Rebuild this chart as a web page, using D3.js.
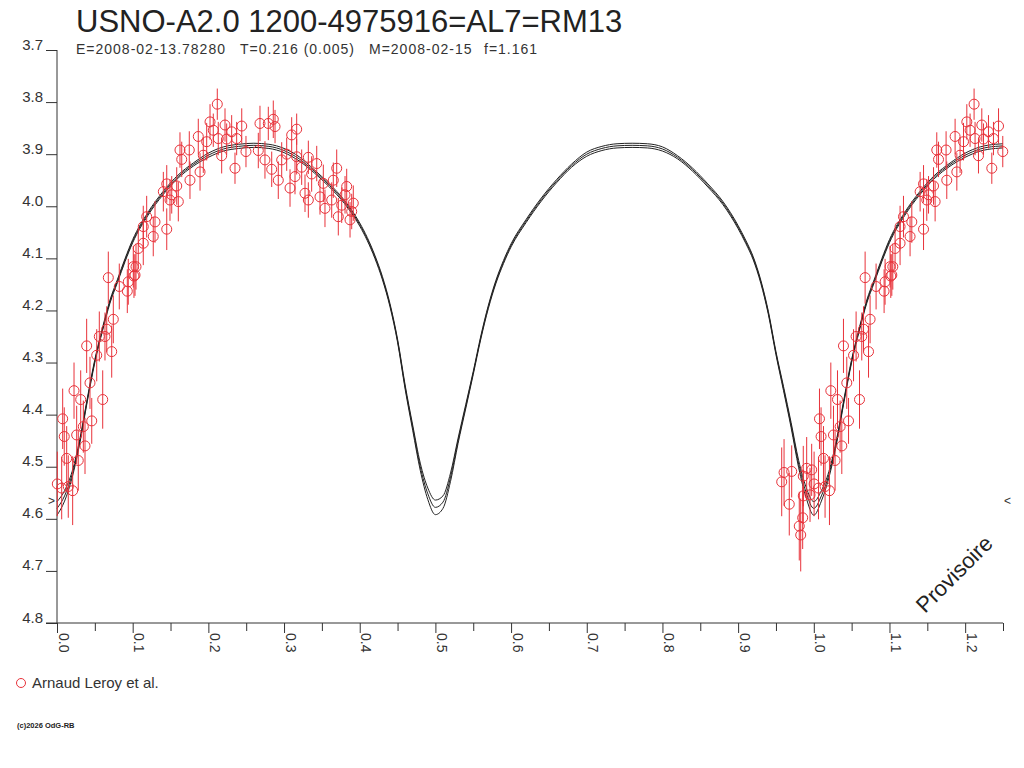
<!DOCTYPE html>
<html>
<head>
<meta charset="utf-8">
<script src="https://cdn.jsdelivr.net/npm/d3@7"></script>
<style>
body { margin: 0; background: #fff; }
svg { display: block; font-family: "Liberation Sans", Arial, sans-serif; }
</style>
</head>
<body>
<svg id="chart"></svg>
<script>
const obsPhase = [-0.0424, -0.0393, -0.0324, -0.0292, -0.0192, -0.0173, -0.0147, -0.0139, -0.0139, -0.0094, -0.0050, -0.0028,
    0.0004, 0.0062, 0.0075, 0.0096, 0.0128, 0.0149, 0.0207, 0.0225, 0.0260, 0.0281, 0.0313, 0.0348, 0.0370, 0.0392,
    0.0436, 0.0459, 0.0525, 0.0559, 0.0604, 0.0634, 0.0657, 0.0678, 0.0723, 0.0744, 0.0823, 0.0929, 0.0942, 0.1008,
    0.1017, 0.1031, 0.1044, 0.1074, 0.1140, 0.1140, 0.1185, 0.1272, 0.1295, 0.1405, 0.1450, 0.1450, 0.1493, 0.1516,
    0.1582, 0.1603, 0.1625, 0.1648, 0.1748, 0.1757, 0.1867, 0.1890, 0.1933, 0.1978, 0.2022, 0.2065, 0.2118, 0.2131,
    0.2176, 0.2220, 0.2242, 0.2308, 0.2352, 0.2374, 0.2441, 0.2497, 0.2660, 0.2682, 0.2748, 0.2792, 0.2837, 0.2858,
    0.2881, 0.2924, 0.2969, 0.3035, 0.3079, 0.3101, 0.3145, 0.3167, 0.3167, 0.3233, 0.3277, 0.3321, 0.3321, 0.3365,
    0.3432, 0.3475, 0.3519, 0.3541, 0.3630, 0.3651, 0.3696, 0.3717, 0.3762, 0.3806, 0.3828, 0.3872, 0.3894, 0.3915];
const obsMag = [4.529, 4.511, 4.572, 4.509, 4.614, 4.631, 4.598, 4.518, 4.556, 4.503, 4.554, 4.506,
    4.533, 4.541, 4.408, 4.442, 4.484, 4.538, 4.546, 4.354, 4.439, 4.488, 4.371, 4.423, 4.460, 4.268,
    4.339, 4.412, 4.286, 4.250, 4.371, 4.250, 4.236, 4.137, 4.279, 4.217, 4.154, 4.163, 4.145, 4.116,
    4.134, 4.132, 4.116, 4.081, 4.071, 4.039, 4.020, 4.058, 4.030, 3.972, 4.044, 3.957, 3.988, 3.978,
    3.961, 3.991, 3.892, 3.910, 3.892, 3.950, 3.866, 3.934, 3.902, 3.876, 3.838, 3.854, 3.804, 3.870,
    3.903, 3.844, 3.871, 3.857, 3.927, 3.870, 3.846, 3.895, 3.893, 3.841, 3.911, 3.841, 3.929, 3.833,
    3.847, 3.950, 3.911, 3.900, 3.965, 3.863, 3.943, 3.852, 3.905, 3.925, 3.975, 3.988, 3.906, 3.938,
    3.918, 3.982, 3.956, 4.004, 3.988, 3.950, 3.927, 4.020, 3.998, 3.978, 3.962, 4.026, 4.010, 3.994];
const obsErr = [0.066, 0.064, 0.060, 0.050, 0.066, 0.070, 0.060, 0.058, 0.050, 0.060, 0.052, 0.050,
    0.062, 0.060, 0.058, 0.056, 0.062, 0.060, 0.066, 0.054, 0.056, 0.058, 0.056, 0.050, 0.054, 0.052,
    0.050, 0.044, 0.050, 0.048, 0.056, 0.046, 0.044, 0.050, 0.050, 0.046, 0.044, 0.042, 0.044, 0.040,
    0.042, 0.040, 0.044, 0.040, 0.042, 0.040, 0.040, 0.038, 0.040, 0.038, 0.040, 0.036, 0.040, 0.036,
    0.036, 0.038, 0.034, 0.034, 0.036, 0.036, 0.034, 0.036, 0.034, 0.036, 0.034, 0.032, 0.030, 0.032,
    0.034, 0.032, 0.030, 0.032, 0.030, 0.032, 0.034, 0.030, 0.034, 0.034, 0.036, 0.032, 0.034, 0.036,
    0.032, 0.036, 0.034, 0.032, 0.036, 0.034, 0.034, 0.030, 0.034, 0.034, 0.036, 0.034, 0.032, 0.034,
    0.034, 0.034, 0.036, 0.036, 0.034, 0.034, 0.036, 0.036, 0.034, 0.036, 0.034, 0.034, 0.034, 0.034];

// Model light curves (three solutions)
const modelPhase = [
    0.00, 0.01, 0.02, 0.03, 0.04, 0.05, 0.06, 0.07, 0.08, 0.09, 0.10,
    0.12, 0.14, 0.16, 0.18, 0.20, 0.22, 0.24, 0.26, 0.28, 0.30, 0.32, 0.34, 0.36, 0.38,
    0.40, 0.41, 0.42, 0.43, 0.44, 0.45, 0.46, 0.47, 0.48, 0.49, 0.50, 0.51, 0.52, 0.53, 0.54, 0.55, 0.56, 0.57, 0.58, 0.59, 0.60,
    0.62, 0.64, 0.66, 0.68, 0.70, 0.72, 0.74, 0.76, 0.78, 0.80, 0.82, 0.84, 0.86, 0.88, 0.90,
    0.91, 0.92, 0.93, 0.94, 0.95, 0.96, 0.97, 0.98, 0.99, 1.00, 1.01, 1.02, 1.03, 1.04, 1.05, 1.06, 1.07, 1.08, 1.09, 1.10,
    1.12, 1.14, 1.16, 1.18, 1.20, 1.22, 1.24, 1.25];
const modelBright = [
    4.567, 4.546, 4.509, 4.448, 4.369, 4.294, 4.234, 4.180, 4.140, 4.100, 4.064,
    4.012, 3.972, 3.940, 3.917, 3.898, 3.886, 3.881, 3.879, 3.881, 3.889, 3.905, 3.930, 3.957, 3.989,
    4.032, 4.060, 4.094, 4.135, 4.187, 4.255, 4.343, 4.420, 4.493, 4.541, 4.564, 4.556, 4.512, 4.445, 4.381, 4.317, 4.249, 4.190, 4.142, 4.104, 4.072,
    4.025, 3.984, 3.949, 3.919, 3.896, 3.885, 3.880, 3.879, 3.880, 3.886, 3.903, 3.927, 3.957, 3.991, 4.037,
    4.065, 4.097, 4.142, 4.202, 4.279, 4.346, 4.415, 4.488, 4.540, 4.567, 4.546, 4.509, 4.448, 4.369, 4.294, 4.234, 4.180, 4.140, 4.100, 4.064,
    4.012, 3.972, 3.940, 3.917, 3.898, 3.886, 3.881, 3.880];
const modelMid = [
    4.580, 4.556, 4.515, 4.452, 4.372, 4.297, 4.237, 4.183, 4.143, 4.103, 4.067,
    4.015, 3.975, 3.943, 3.920, 3.902, 3.890, 3.885, 3.883, 3.885, 3.893, 3.909, 3.933, 3.960, 3.992,
    4.035, 4.063, 4.097, 4.138, 4.190, 4.258, 4.347, 4.425, 4.500, 4.552, 4.578, 4.568, 4.520, 4.450, 4.385, 4.320, 4.252, 4.193, 4.145, 4.107, 4.075,
    4.028, 3.987, 3.952, 3.922, 3.900, 3.889, 3.884, 3.883, 3.884, 3.890, 3.906, 3.930, 3.960, 3.994, 4.040,
    4.068, 4.100, 4.145, 4.205, 4.282, 4.350, 4.420, 4.495, 4.550, 4.580, 4.556, 4.515, 4.452, 4.372, 4.297, 4.237, 4.183, 4.143, 4.103, 4.067,
    4.015, 3.975, 3.943, 3.920, 3.902, 3.890, 3.885, 3.884];
const modelFaint = [
    4.593, 4.566, 4.521, 4.456, 4.375, 4.300, 4.240, 4.186, 4.146, 4.106, 4.070,
    4.018, 3.978, 3.946, 3.923, 3.906, 3.894, 3.889, 3.887, 3.889, 3.897, 3.913, 3.936, 3.963, 3.995,
    4.038, 4.066, 4.100, 4.141, 4.193, 4.261, 4.351, 4.430, 4.507, 4.563, 4.592, 4.580, 4.528, 4.455, 4.389, 4.323, 4.255, 4.196, 4.148, 4.110, 4.078,
    4.031, 3.990, 3.955, 3.925, 3.904, 3.893, 3.888, 3.887, 3.888, 3.894, 3.909, 3.933, 3.963, 3.997, 4.043,
    4.071, 4.103, 4.148, 4.208, 4.285, 4.354, 4.425, 4.502, 4.560, 4.593, 4.566, 4.521, 4.456, 4.375, 4.300, 4.240, 4.186, 4.146, 4.106, 4.070,
    4.018, 3.978, 3.946, 3.923, 3.906, 3.894, 3.889, 3.888];

// Axis ticks
const xMajorTicks = [0.0, 0.1, 0.2, 0.3, 0.4, 0.5, 0.6, 0.7, 0.8, 0.9, 1.0, 1.1, 1.2];
const xMinorTicks = [0.05, 0.15, 0.25, 0.35, 0.45, 0.55, 0.65, 0.75, 0.85, 0.95, 1.05, 1.15, 1.25];
const yTicks = [3.7, 3.8, 3.9, 4.0, 4.1, 4.2, 4.3, 4.4, 4.5, 4.6, 4.7, 4.8];

const title = "USNO-A2.0 1200-4975916=AL7=RM13";
const subtitleParts = ["E=2008-02-13.78280", "T=0.216 (0.005)", "M=2008-02-15", "f=1.161"];
const legendLabel = "Arnaud Leroy et al.";

const width = 1024;
const height = 768;
const red = "#e8323a";
const ink = "#333";

const x = d3.scaleLinear([0, 1.25], [57, 1003]);
const y = d3.scaleLinear([3.7, 4.8], [50, 623]);

const svg = d3.select("#chart")
    .attr("width", width)
    .attr("height", height)
    .attr("viewBox", [0, 0, width, height]);

svg.append("rect").attr("width", width).attr("height", height).attr("fill", "#fff");

// Title and elements line
svg.append("text")
    .attr("x", 76).attr("y", 32)
    .attr("font-size", 31)
    .attr("fill", "#222")
    .text(title);

const subX = [76, 240, 369, 484];
svg.append("g")
    .selectAll("text")
    .data(subtitleParts)
    .join("text")
    .attr("x", (d, i) => subX[i])
    .attr("y", 54)
    .attr("font-size", 14)
    .attr("letter-spacing", 1)
    .attr("fill", ink)
    .text(d => d);

// Y axis
svg.append("g")
    .attr("transform", `translate(${x(0)},0)`)
    .call(d3.axisLeft(y).tickValues(yTicks).tickSize(11).tickFormat(d3.format(".1f")))
    .call(g => g.select(".domain").remove())
    .call(g => g.selectAll(".tick line").attr("stroke", ink))
    .call(g => g.selectAll(".tick text")
        .attr("dy", "-1")
        .attr("font-size", 15)
        .attr("font-family", "Liberation Sans, Arial, sans-serif")
        .attr("fill", ink));

// X axis, major ticks with labels
svg.append("g")
    .attr("transform", `translate(0,${y(4.8)})`)
    .call(d3.axisBottom(x).tickValues(xMajorTicks).tickSize(10).tickFormat(d3.format(".1f")))
    .call(g => g.select(".domain").remove())
    .call(g => g.selectAll(".tick line").attr("stroke", ink))
    .call(g => g.selectAll(".tick text")
        .attr("x", 0).attr("y", 0).attr("dy", null)
        .attr("text-anchor", "start")
        .attr("transform", "translate(1,10) rotate(90)")
        .attr("font-size", 14)
        .attr("font-family", "Liberation Sans, Arial, sans-serif")
        .attr("fill", ink));

// X axis, minor ticks
svg.append("g")
    .attr("transform", `translate(0,${y(4.8)})`)
    .call(d3.axisBottom(x).tickValues(xMinorTicks).tickSize(8).tickFormat(""))
    .call(g => g.select(".domain").remove())
    .call(g => g.selectAll(".tick line").attr("stroke", ink));

// Axis lines
svg.append("line")
    .attr("x1", x(0)).attr("x2", x(0))
    .attr("y1", y(3.7)).attr("y2", y(4.8))
    .attr("stroke", ink);
svg.append("line")
    .attr("x1", x(0) - 11).attr("x2", x(1.25))
    .attr("y1", y(4.8)).attr("y2", y(4.8))
    .attr("stroke", ink);

// Model curves
const models = [modelBright, modelMid, modelFaint].map(mags =>
    modelPhase.map((p, i) => ({phase: p, mag: mags[i]})));

const curve = d3.line()
    .x(d => x(d.phase))
    .y(d => y(d.mag))
    .curve(d3.curveMonotoneX);

svg.append("g")
    .selectAll("path")
    .data(models)
    .join("path")
    .attr("fill", "none")
    .attr("stroke", "#222")
    .attr("stroke-width", 1)
    .attr("d", curve);

// Observations, folded: shown at phase and phase + 1 inside [0, 1.25]
const obs = [];
obsPhase.forEach((p, i) => {
    [p, p + 1].forEach(q => {
        if (q >= 0 && q <= 1.25) obs.push({phase: q, mag: obsMag[i], err: obsErr[i]});
    });
});

const points = svg.append("g");

points.selectAll("line")
    .data(obs)
    .join("line")
    .attr("x1", d => x(d.phase)).attr("x2", d => x(d.phase))
    .attr("y1", d => y(d.mag - d.err)).attr("y2", d => y(d.mag + d.err))
    .attr("stroke", red)
    .attr("stroke-width", 1);

points.selectAll("circle")
    .data(obs)
    .join("circle")
    .attr("cx", d => x(d.phase))
    .attr("cy", d => y(d.mag))
    .attr("r", 5)
    .attr("fill", "none")
    .attr("stroke", red)
    .attr("stroke-width", 1);

// Side markers
svg.append("text")
    .attr("x", x(0) - 9).attr("y", y(4.565) + 4)
    .attr("font-size", 12).attr("fill", ink)
    .text(">");
svg.append("text")
    .attr("x", x(1.25) + 1).attr("y", y(4.565) + 4)
    .attr("font-size", 12).attr("fill", ink)
    .text("<");

// Watermark
svg.append("text")
    .attr("transform", "translate(925,614) rotate(-45)")
    .attr("font-size", 22)
    .attr("fill", "#222")
    .text("Provisoire");

// Legend
svg.append("circle")
    .attr("cx", 21).attr("cy", 683).attr("r", 4.5)
    .attr("fill", "none").attr("stroke", red);
svg.append("text")
    .attr("x", 32).attr("y", 688)
    .attr("font-size", 15).attr("fill", ink)
    .text(legendLabel);

svg.append("text")
    .attr("x", 17).attr("y", 728)
    .attr("font-size", 7.5).attr("font-weight", "bold").attr("fill", "#222")
    .text("(c)2026 OdG-RB");
</script>
</body>
</html>
